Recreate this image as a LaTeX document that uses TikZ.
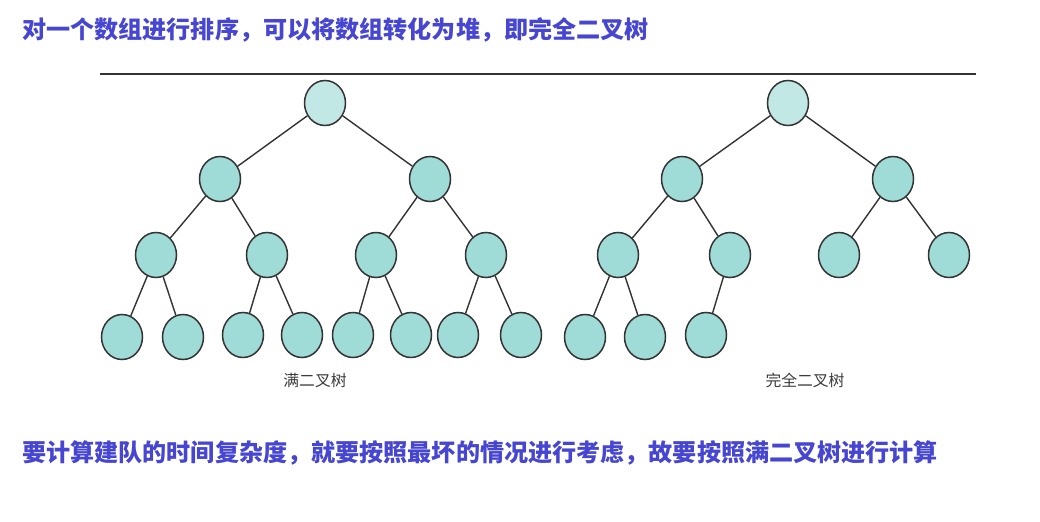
\documentclass[tikz,border=0pt]{standalone}
\usepackage{fontspec}
\setmainfont{Noto Sans CJK SC}
\usetikzlibrary{shapes.geometric}
\definecolor{titleblue}{HTML}{4646D2}
\definecolor{nodefill}{HTML}{9FDCD8}
\definecolor{rootfill}{HTML}{C2E8E6}
\definecolor{linegrey}{HTML}{333333}
\definecolor{labelgrey}{HTML}{3C3C3C}
\tikzset{
  tnode/.style={ellipse, draw=linegrey, line width=1.5bp, fill=nodefill, minimum width=41bp, minimum height=45bp, inner sep=0pt},
  troot/.style={tnode, fill=rootfill},
  edge/.style={draw=linegrey, line width=1.4bp},
  headline/.style={anchor=west, text=titleblue, font=\fontsize{24.1bp}{28bp}\selectfont\bfseries, inner sep=0pt},
  caption/.style={text=labelgrey, font=\fontsize{15.8bp}{18bp}\selectfont, inner sep=0pt}
}
\begin{document}
\begin{tikzpicture}[x=1bp,y=-1bp]
\useasboundingbox[fill=white] (0,0) rectangle (1040,522);
\node[headline] (title) at (22,30) {对一个数组进行排序，可以将数组转化为堆，即完全二叉树};
\node[headline] (bottom) at (22,453) {要计算建队的时间复杂度，就要按照最坏的情况进行考虑，故要按照满二叉树进行计算};
\coordinate (hl) at (100,74);
\coordinate (hr) at (976,74);
\draw[draw=linegrey, line width=1.2bp] (hl) -- (hr);
% left tree (full binary tree)
\node[troot] (L1) at (325,103) {};
\node[tnode] (L2a) at (220,179) {};
\node[tnode] (L2b) at (430,179) {};
\node[tnode] (L3a) at (156,255) {};
\node[tnode] (L3b) at (267,255) {};
\node[tnode] (L3c) at (376,255) {};
\node[tnode] (L3d) at (486,255) {};
\node[tnode] (L4a) at (122,337) {};
\node[tnode] (L4b) at (183,337) {};
\node[tnode] (L4c) at (243,335) {};
\node[tnode] (L4d) at (302,335) {};
\node[tnode] (L4e) at (353,335) {};
\node[tnode] (L4f) at (411,335) {};
\node[tnode] (L4g) at (458,335) {};
\node[tnode] (L4h) at (521,335) {};
\draw[edge] (L1) -- (L2a); \draw[edge] (L1) -- (L2b);
\draw[edge] (L2a) -- (L3a); \draw[edge] (L2a) -- (L3b);
\draw[edge] (L2b) -- (L3c); \draw[edge] (L2b) -- (L3d);
\draw[edge] (L3a) -- (L4a); \draw[edge] (L3a) -- (L4b);
\draw[edge] (L3b) -- (L4c); \draw[edge] (L3b) -- (L4d);
\draw[edge] (L3c) -- (L4e); \draw[edge] (L3c) -- (L4f);
\draw[edge] (L3d) -- (L4g); \draw[edge] (L3d) -- (L4h);
\node[caption] (capL) at (315,380) {满二叉树};
% right tree (complete binary tree)
\node[troot] (R1) at (788,103) {};
\node[tnode] (R2a) at (682,179) {};
\node[tnode] (R2b) at (893,179) {};
\node[tnode] (R3a) at (618,255) {};
\node[tnode] (R3b) at (730,255) {};
\node[tnode] (R3c) at (839,255) {};
\node[tnode] (R3d) at (949,255) {};
\node[tnode] (R4a) at (585,337) {};
\node[tnode] (R4b) at (645,337) {};
\node[tnode] (R4c) at (706,335) {};
\draw[edge] (R1) -- (R2a); \draw[edge] (R1) -- (R2b);
\draw[edge] (R2a) -- (R3a); \draw[edge] (R2a) -- (R3b);
\draw[edge] (R2b) -- (R3c); \draw[edge] (R2b) -- (R3d);
\draw[edge] (R3a) -- (R4a); \draw[edge] (R3a) -- (R4b);
\draw[edge] (R3b) -- (R4c);
\node[caption] (capR) at (805,380) {完全二叉树};
\end{tikzpicture}
\end{document}
